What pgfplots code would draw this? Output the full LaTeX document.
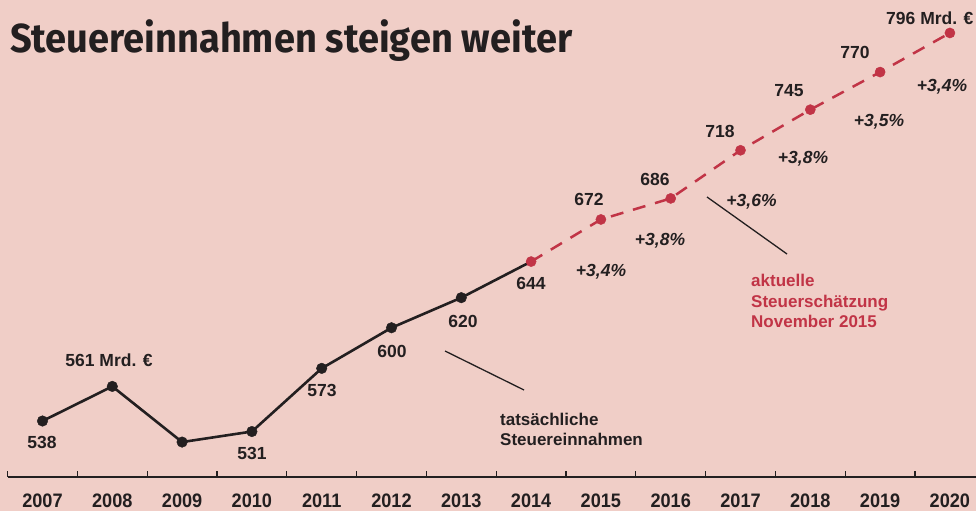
\documentclass[border=0pt]{standalone}
\usepackage{fontspec}
\setmainfont{Liberation Sans}
\newfontfamily\titlefont{Fira Sans}
\newfontfamily\yearfont{Liberation Sans}[FakeStretch=0.93]
\usepackage{graphicx}
\usepackage{pgfplots}
\pgfplotsset{compat=1.18}
\definecolor{bg}{RGB}{240,206,199}
\definecolor{sred}{RGB}{193,52,70}
\definecolor{sblack}{RGB}{35,31,32}

\pgfplotstableread{
x y
0 538
1 561
2 524
3 531
4 573
5 600
6 620
7 644
}\actual

\pgfplotstableread{
x y
7 644
8 672
9 686
10 718
11 745
12 770
13 796
}\forecast

\begin{document}
\begin{tikzpicture}
\path[use as bounding box, fill=bg] (0pt,-34pt) rectangle (976pt,477pt);
\begin{axis}[
  at={(7.6pt,0pt)}, anchor=south west,
  scale only axis, width=968.4pt, height=477pt,
  xmin=-0.5, xmax=13.374, ymin=500.77, ymax=817.92,
  axis x line*=bottom, axis y line=none, ytick=\empty,
  clip=false,
  xtick={0,...,13},
  xticklabels={2007,2008,2009,2010,2011,2012,2013,2014,2015,2016,2017,2018,2019,2020},
  major tick length=0pt,
  minor xtick={-0.5,0.5,1.5,2.5,3.5,4.5,5.5,6.5,7.5,8.5,9.5,10.5,11.5,12.5},
  minor tick length=6pt,
  tick align=inside,
  x axis line style={line width=1.6pt, color=sblack, -},
  every tick/.style={sblack, line width=1.2pt},
  xticklabel style={font=\yearfont\bfseries\fontsize{19.5}{20}\selectfont, anchor=base, yshift=-30pt, text=sblack},
]
\addplot[sblack, line width=2.6pt, line join=round, no marks] table[x=x,y=y]{\actual};
\addplot[only marks, mark=*, mark size=5.3pt, sblack, mark options={line width=0.4pt}, restrict x to domain=0:6] table[x=x,y=y]{\actual};
\addplot[sred, line width=2.5pt, dash pattern=on 13pt off 10pt, mark=*, mark size=5.1pt, mark options={solid, fill=sred, line width=0.4pt}] table[x=x,y=y]{\forecast};
\end{axis}
\begin{scope}[shift={(0pt,477pt)}, x=1pt, y=-1pt]
  % title
  \node[anchor=base west, inner sep=0pt, text=sblack] at (10,53)
    {\resizebox{562pt}{\height}{\titlefont\bfseries\fontsize{40.5}{44}\selectfont Steuereinnahmen steigen weiter}};
  \begin{scope}[every node/.style={inner sep=0pt, text=sblack, font=\bfseries\fontsize{17.5}{20}\selectfont}]
    \node[anchor=base] at (42,448) {538};
    \node[anchor=base] at (109,367) {561 Mrd. €};
    \node[anchor=base] at (252,459) {531};
    \node[anchor=base] at (322,397) {573};
    \node[anchor=base] at (392,358) {600};
    \node[anchor=base] at (463,328) {620};
    \node[anchor=base] at (531,290) {644};
    \node[anchor=base] at (589,206) {672};
    \node[anchor=base] at (655,186) {686};
    \node[anchor=base] at (720,138) {718};
    \node[anchor=base] at (789,97) {745};
    \node[anchor=base] at (855,59) {770};
    \node[anchor=base west] at (886,25) {796 Mrd. €};
  \end{scope}
  \begin{scope}[every node/.style={inner sep=0pt, text=sblack, font=\bfseries\itshape\fontsize{17.5}{20}\selectfont}]
    \node[anchor=base] at (601,277) {+3,4\%};
    \node[anchor=base] at (660,246) {+3,8\%};
    \node[anchor=base] at (751.5,207) {+3,6\%};
    \node[anchor=base] at (803,164) {+3,8\%};
    \node[anchor=base] at (879,127) {+3,5\%};
    \node[anchor=base] at (942,92) {+3,4\%};
  \end{scope}
  \draw[sblack, line width=1.3pt] (445,351) -- (524,390);
  \draw[sblack, line width=1.3pt] (707,197) -- (787,254);
  \begin{scope}[every node/.style={inner sep=0pt, anchor=base west, font=\bfseries\fontsize{17}{20}\selectfont}]
    \node[text=sblack] at (500,425) {tatsächliche};
    \node[text=sblack] at (500,445) {Steuereinnahmen};
    \node[text=sred] at (751,287) {aktuelle};
    \node[text=sred] at (751,308) {Steuerschätzung};
    \node[text=sred] at (751,328) {November 2015};
  \end{scope}
\end{scope}
\end{tikzpicture}
\end{document}
